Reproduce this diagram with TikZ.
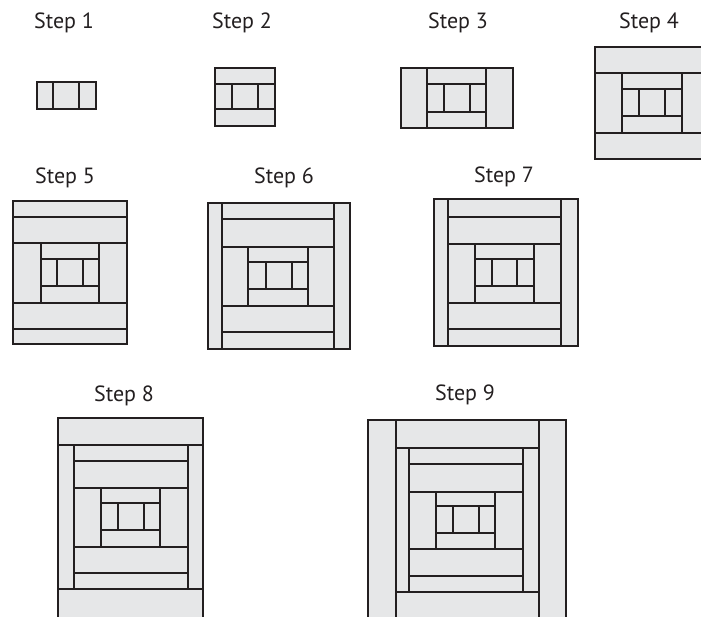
\documentclass[tikz,border=0pt]{standalone}
\usepackage{fontspec}
\setmainfont{PT Sans}
\definecolor{patch}{HTML}{E6E7E8}
\definecolor{seam}{HTML}{231F20}
\tikzset{
  piece/.style={fill=patch, draw=seam, line width=1.5pt},
  steplabel/.style={font=\fontsize{22}{26}\selectfont, text=seam, inner sep=0pt}
}
\begin{document}
\begin{tikzpicture}[x=1pt, y=-1pt]
    \useasboundingbox (0,0) rectangle (701,616);
    \clip (0,0) rectangle (701,616);
    \foreach \n/\x/\y in {1/64/23, 2/242/23, 3/458/23, 4/649/23, 5/65/178, 6/284/178, 7/504/177, 8/124/396, 9/465/395} {
      \node[steplabel] (step\n) at (\x,\y) {Step \n};
    }
    \foreach \xa/\ya/\xb/\yb in {37/82/53/109, 53/82/79/109, 79/82/96/109} {
      \draw[piece] (\xa,\ya) rectangle (\xb,\yb);
    }
    \foreach \xa/\ya/\xb/\yb in {215/68/275/84, 215/84/232/109, 232/84/258/109, 258/84/275/109, 215/109/275/126} {
      \draw[piece] (\xa,\ya) rectangle (\xb,\yb);
    }
    \foreach \xa/\ya/\xb/\yb in {401/68/427/128, 486/68/513/128, 427/68/486/84, 427/84/444/112, 444/84/470/112, 470/84/486/112, 427/112/486/128} {
      \draw[piece] (\xa,\ya) rectangle (\xb,\yb);
    }
    \foreach \xa/\ya/\xb/\yb in {595/47/709/73, 595/133/709/159, 595/73/622/133, 682/73/709/133, 622/73/682/89, 622/89/639/116, 639/89/665/116, 665/89/682/116, 622/116/682/133} {
      \draw[piece] (\xa,\ya) rectangle (\xb,\yb);
    }
    \foreach \xa/\ya/\xb/\yb in {13/201/127/217, 13/217/127/243, 13/243/41/303, 99/243/127/303, 41/243/99/259, 41/259/57/286, 57/259/83/286, 83/259/99/286, 41/286/99/303, 13/303/127/329, 13/329/127/344} {
      \draw[piece] (\xa,\ya) rectangle (\xb,\yb);
    }
    \foreach \xa/\ya/\xb/\yb in {208/203/222/349, 334/203/350/349, 222/203/334/219, 222/219/334/247, 222/247/248/306, 308/247/334/306, 248/247/308/262, 248/262/266/289, 266/262/292/289, 292/262/308/289, 248/289/308/306, 222/306/334/332, 222/332/334/349} {
      \draw[piece] (\xa,\ya) rectangle (\xb,\yb);
    }
    \foreach \xa/\ya/\xb/\yb in {434/199/448/346, 561/199/578/346, 448/199/561/217, 448/217/561/244, 448/244/475/303, 534/244/561/303, 475/244/534/259, 475/259/492/286, 492/259/517/286, 517/259/534/286, 475/286/534/303, 448/303/561/329, 448/329/561/346} {
      \draw[piece] (\xa,\ya) rectangle (\xb,\yb);
    }
    \foreach \xa/\ya/\xb/\yb in {58/418/203/445, 58/589/203/640, 58/445/74/589, 188/445/203/589, 74/445/188/461, 74/461/188/488, 74/488/101/547, 160/488/188/547, 101/488/160/503, 101/503/118/530, 118/503/144/530, 144/503/160/530, 101/530/160/547, 74/547/188/573, 74/573/188/589} {
      \draw[piece] (\xa,\ya) rectangle (\xb,\yb);
    }
    \foreach \xa/\ya/\xb/\yb in {368/420/396/640, 539/420/566/640, 396/420/539/448, 396/592/539/640, 396/448/409/592, 523/448/539/592, 409/448/523/464, 409/464/523/492, 409/492/436/549, 495/492/523/549, 436/492/495/506, 436/506/453/533, 453/506/479/533, 479/506/495/533, 436/533/495/549, 409/549/523/576, 409/576/523/592} {
      \draw[piece] (\xa,\ya) rectangle (\xb,\yb);
    }
  \end{tikzpicture}
\end{document}
